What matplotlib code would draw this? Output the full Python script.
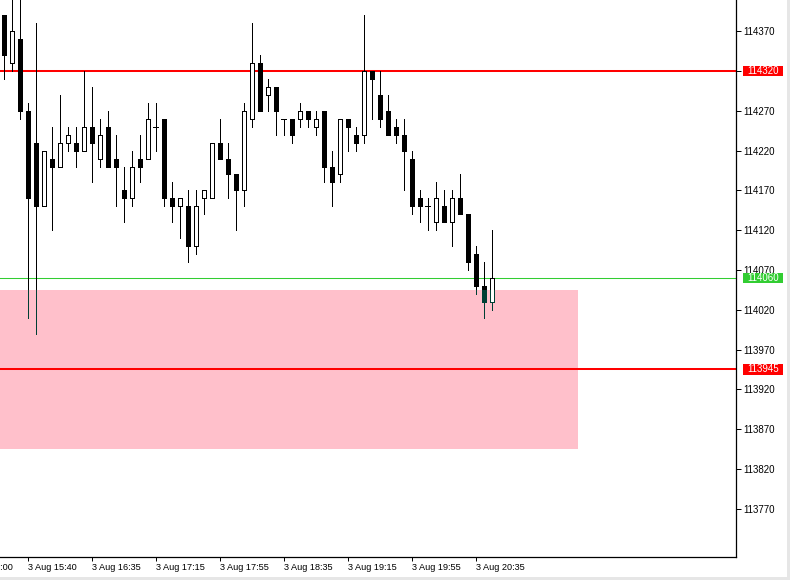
import matplotlib
matplotlib.use("Agg")
import matplotlib.pyplot as plt
from matplotlib.patches import Rectangle
from matplotlib.transforms import blended_transform_factory

# ---------------- data ----------------
opens = [114390, 114330, 114360, 114270, 114230, 114150, 114210, 114200, 114230, 114230,
         114220, 114250, 114210, 114250, 114210, 114170, 114160, 114210, 114210, 114250,
         114260, 114160, 114150, 114150, 114100, 114160, 114160, 114230, 114210, 114190,
         114170, 114260, 114330, 114290, 114300, 114260, 114260, 114260, 114270, 114250,
         114270, 114200, 114190, 114260, 114240, 114240, 114320, 114290, 114270, 114250,
         114240, 114210, 114160, 114150, 114130, 114150, 114130, 114160, 114140, 114090,
         114050, 114030]
highs = [114390, 114430, 114430, 114280, 114380, 114220, 114250, 114290, 114250, 114250,
         114320, 114300, 114260, 114270, 114240, 114200, 114220, 114240, 114280, 114280,
         114260, 114180, 114160, 114170, 114170, 114170, 114230, 114260, 114230, 114190,
         114280, 114380, 114340, 114310, 114300, 114260, 114260, 114280, 114270, 114270,
         114270, 114220, 114260, 114260, 114250, 114390, 114320, 114320, 114290, 114260,
         114260, 114220, 114170, 114160, 114180, 114170, 114170, 114190, 114140, 114100,
         114080, 114120]
lows = [114310, 114320, 114260, 114010, 113990, 114150, 114120, 114200, 114220, 114200,
        114220, 114180, 114200, 114200, 114150, 114130, 114150, 114180, 114210, 114220,
        114150, 114130, 114110, 114080, 114090, 114140, 114160, 114210, 114160, 114120,
        114150, 114250, 114270, 114270, 114240, 114240, 114230, 114250, 114250, 114240,
        114180, 114150, 114180, 114220, 114220, 114230, 114260, 114250, 114240, 114230,
        114170, 114140, 114130, 114120, 114120, 114130, 114100, 114140, 114070, 114040,
        114010, 114020]
closes = [114340, 114370, 114270, 114160, 114150, 114220, 114200, 114230, 114240, 114220,
          114250, 114230, 114240, 114200, 114200, 114160, 114200, 114200, 114260, 114250,
          114160, 114150, 114160, 114100, 114150, 114170, 114230, 114210, 114190, 114170,
          114270, 114330, 114270, 114300, 114270, 114260, 114240, 114270, 114260, 114260,
          114200, 114180, 114260, 114250, 114230, 114320, 114310, 114260, 114240, 114240,
          114220, 114150, 114150, 114150, 114160, 114130, 114160, 114140, 114080, 114050,
          114030, 114060]

time_tick_idx = [-5, 3, 11, 19, 27, 35, 43, 51, 59]
time_labels = ["3 Aug 15:00", "3 Aug 15:40", "3 Aug 16:35", "3 Aug 17:15", "3 Aug 17:55",
               "3 Aug 18:35", "3 Aug 19:15", "3 Aug 19:55", "3 Aug 20:35"]
price_ticks = [113770, 113820, 113870, 113920, 113970, 114020, 114070, 114120,
               114170, 114220, 114270, 114320, 114370]

red_levels = [114320, 113945]
bid_level = 114060
zone_low, zone_high = 113845, 114045
zone_left, zone_right = -10, 71.8

# ---------------- figure ----------------
plt.rcParams['font.family'] = ['Liberation Sans', 'DejaVu Sans']
W, H = 790, 580
fig = plt.figure(figsize=(W / 100, H / 100), dpi=100)
fig.patch.set_facecolor('white')
ax = fig.add_axes([0, 23 / H, 736 / W, 557 / H])
ax.set_facecolor('white')

ax.set_xlim(-0.4375, 91.56)
ax.set_ylim(113709.4, 114409.2)

# zone
zone = Rectangle((zone_left, zone_low), zone_right - zone_left, zone_high - zone_low,
                 facecolor='#FFC0CB', edgecolor='none', zorder=1)
ax.add_patch(zone)
zone_clip = Rectangle((zone_left, zone_low), zone_right - zone_left, zone_high - zone_low,
                      transform=ax.transData, facecolor='none', edgecolor='none')

# levels
for lv in red_levels:
    ax.axhline(lv, color='#FF0000', lw=1.45, zorder=2)
ax.axhline(bid_level, color='#32CD32', lw=0.75, zorder=2)

# candles
px = 0.72
idx = list(range(len(opens)))
teal = '#003F34'
for color, clip in (('black', False), (teal, True)):
    wk = ax.vlines(idx, lows, highs, colors=color, lw=px, zorder=3, antialiaseds=False)
    if clip:
        wk.set_clip_path(zone_clip)
    for i, (o, h, l, c) in enumerate(zip(opens, highs, lows, closes)):
        if o == c:
            ln = ax.hlines(o, i - 0.3, i + 0.3, colors=color, lw=px, zorder=4,
                           antialiaseds=False)
            if clip:
                ln.set_clip_path(zone_clip)
            continue
        bull = c > o
        b = ax.bar(i, abs(c - o), bottom=min(o, c), width=0.5,
                   facecolor='white' if bull else color, edgecolor=color,
                   linewidth=px, zorder=4, antialiased=False)
        if clip:
            for p in b:
                p.set_clip_path(zone_clip)

# spines
for s in ('left', 'top'):
    ax.spines[s].set_visible(False)
for s in ('right', 'bottom'):
    ax.spines[s].set_linewidth(0.9)
    ax.spines[s].set_color('black')

# y axis on the right (the 114320 label is hidden under the level box)
ax.yaxis.tick_right()
ax.set_yticks(price_ticks)
ax.set_yticklabels(['' if v in red_levels else str(v) for v in price_ticks])
ax.tick_params(axis='y', direction='out', length=3.6, width=0.72, pad=1.5,
               labelsize=7, colors='black')

# x axis
ax.set_xticks(time_tick_idx[1:])
ax.set_xticklabels(time_labels[1:], ha='left')
ax.tick_params(axis='x', direction='out', length=3, width=0.72, pad=1.5,
               labelsize=6.6, colors='black')
trans_xb = blended_transform_factory(ax.transData, ax.transAxes)
ax.text(time_tick_idx[0] + 0.05, -0.0115, time_labels[0], transform=trans_xb,
        ha='left', va='top', fontsize=6.6, clip_on=False)

# price labels on the right axis
trans_r = blended_transform_factory(ax.transAxes, ax.transData)
def price_box(val, color):
    ax.add_patch(Rectangle((1 + 7 / 736, val - 6.5), 40 / 736, 13, transform=trans_r,
                           facecolor=color, edgecolor='none', clip_on=False, zorder=6))
    ax.text(1 + 27 / 736, val, str(val), transform=trans_r, ha='center', va='center',
            fontsize=7, color='white', clip_on=False, zorder=7)

for lv in red_levels:
    price_box(lv, '#FF0000')
price_box(bid_level, '#32CD32')

# light window border
fig.patches.append(Rectangle((0, 0), 1, 3 / H, transform=fig.transFigure,
                             facecolor='#E6E6E6', edgecolor='none'))
fig.patches.append(Rectangle((787 / W, 0), 3 / W, 1, transform=fig.transFigure,
                             facecolor='#E6E6E6', edgecolor='none'))

fig.savefig('out.png', dpi=100)
